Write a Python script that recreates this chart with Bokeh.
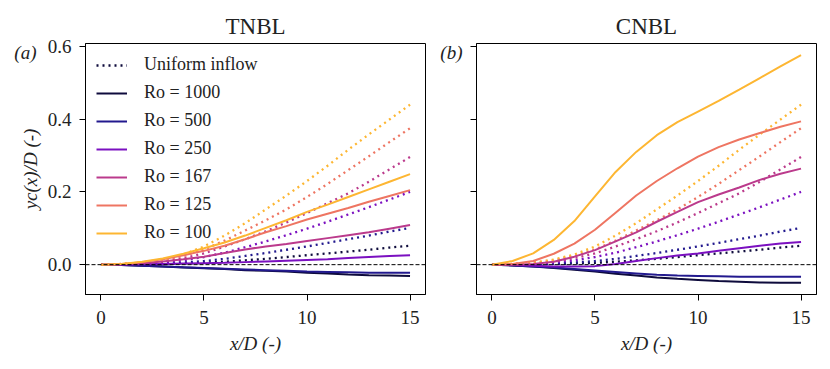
from bokeh.plotting import figure
from bokeh.layouts import row
from bokeh.models import (Legend, LegendItem, Span, FixedTicker, LinearAxis,
                          NumeralTickFormatter, CustomJSTickFormatter, Range1d)
from bokeh.embed import file_html
from bokeh.resources import INLINE

# ---------------- data ----------------
x_vals = list(range(16))  # x/D = 0..15

ro_labels = ["Ro = 1000", "Ro = 500", "Ro = 250", "Ro = 167", "Ro = 125", "Ro = 100"]
ro_colors = ["#0e0b3c", "#22198e", "#7b10c0", "#bb3a8c", "#ee7562", "#fdb632"]

# Uniform inflow (dotted), one per Ro
uni_1000 = [0, 0.000, 0.001, 0.002, 0.003, 0.005, 0.008, 0.012, 0.016, 0.021, 0.026, 0.031, 0.036, 0.041, 0.047, 0.052]
uni_500  = [0, 0.000, 0.001, 0.003, 0.006, 0.010, 0.016, 0.024, 0.032, 0.041, 0.050, 0.060, 0.070, 0.080, 0.091, 0.101]
uni_250  = [0, 0.001, 0.003, 0.006, 0.012, 0.021, 0.033, 0.048, 0.064, 0.081, 0.099, 0.118, 0.138, 0.158, 0.179, 0.200]
uni_167  = [0, 0.001, 0.004, 0.009, 0.018, 0.031, 0.050, 0.070, 0.092, 0.116, 0.142, 0.169, 0.196, 0.228, 0.262, 0.296]
uni_125  = [0, 0.002, 0.005, 0.012, 0.024, 0.042, 0.066, 0.094, 0.122, 0.152, 0.186, 0.222, 0.260, 0.298, 0.337, 0.375]
uni_100  = [0, 0.002, 0.006, 0.014, 0.028, 0.050, 0.080, 0.114, 0.152, 0.190, 0.230, 0.272, 0.316, 0.358, 0.399, 0.440]

# TNBL (solid)
tnbl_1000 = [0, -0.001, -0.003, -0.005, -0.008, -0.010, -0.012, -0.015, -0.017, -0.019, -0.022, -0.024, -0.027, -0.029, -0.030, -0.031]
tnbl_500  = [0, -0.001, -0.003, -0.005, -0.007, -0.009, -0.011, -0.013, -0.015, -0.017, -0.019, -0.020, -0.021, -0.022, -0.022, -0.022]
tnbl_250  = [0, 0.000, 0.001, 0.002, 0.003, 0.004, 0.005, 0.007, 0.009, 0.011, 0.013, 0.015, 0.018, 0.021, 0.024, 0.026]
tnbl_167  = [0, 0.001, 0.004, 0.009, 0.015, 0.022, 0.032, 0.042, 0.050, 0.057, 0.065, 0.073, 0.081, 0.089, 0.099, 0.109]
tnbl_125  = [0, 0.002, 0.007, 0.015, 0.026, 0.038, 0.052, 0.070, 0.089, 0.106, 0.124, 0.140, 0.156, 0.173, 0.189, 0.205]
tnbl_100  = [0, 0.002, 0.008, 0.017, 0.030, 0.045, 0.061, 0.080, 0.101, 0.122, 0.145, 0.165, 0.186, 0.207, 0.228, 0.249]

# CNBL (solid)
cnbl_1000 = [0, -0.002, -0.005, -0.009, -0.014, -0.019, -0.025, -0.030, -0.035, -0.039, -0.042, -0.045, -0.047, -0.049, -0.050, -0.050]
cnbl_500  = [0, -0.002, -0.005, -0.008, -0.012, -0.016, -0.020, -0.024, -0.028, -0.030, -0.031, -0.032, -0.033, -0.033, -0.033, -0.033]
cnbl_250  = [0, -0.001, -0.003, -0.005, -0.005, -0.004, 0.002, 0.010, 0.018, 0.025, 0.031, 0.038, 0.045, 0.052, 0.058, 0.062]
cnbl_167  = [0, 0.000, 0.002, 0.008, 0.022, 0.040, 0.064, 0.089, 0.118, 0.145, 0.172, 0.193, 0.212, 0.233, 0.250, 0.264]
cnbl_125  = [0, 0.002, 0.010, 0.030, 0.058, 0.096, 0.143, 0.190, 0.230, 0.265, 0.297, 0.323, 0.344, 0.362, 0.379, 0.394]
cnbl_100  = [0, 0.010, 0.031, 0.068, 0.120, 0.188, 0.255, 0.310, 0.356, 0.392, 0.421, 0.450, 0.481, 0.513, 0.545, 0.576]

uniform = [uni_1000, uni_500, uni_250, uni_167, uni_125, uni_100]
tnbl = [tnbl_1000, tnbl_500, tnbl_250, tnbl_167, tnbl_125, tnbl_100]
cnbl = [cnbl_1000, cnbl_500, cnbl_250, cnbl_167, cnbl_125, cnbl_100]

x_ticks = [0, 5, 10, 15]
y_ticks = [0.0, 0.2, 0.4, 0.6]
titles = ["TNBL", "CNBL"]
panel_tags = ["(a)", "(b)"]
tag_y = 0.583

FONT = "Liberation Serif"
TXT = "#222222"
FRAME_W, FRAME_H = 340, 251


def make_panel(idx, solid_sets, first):
    left = 85 if first else 40
    right = 11 if first else 10
    top, bottom = 43, 70
    p = figure(width=left + FRAME_W + right, height=top + FRAME_H + bottom,
               output_backend="svg", toolbar_location=None,
               x_range=Range1d(-0.75, 15.75), y_range=Range1d(-0.082, 0.608),
               min_border_left=left, min_border_right=right,
               min_border_top=top, min_border_bottom=bottom)
    p.title.text = titles[idx]
    p.title.align = "center"
    p.title.text_font = FONT
    p.title.text_font_size = "23px"
    p.title.text_font_style = "normal"
    p.title.text_color = TXT
    p.title.standoff = 9
    p.grid.visible = False
    p.outline_line_color = "black"
    p.outline_line_width = 1
    p.background_fill_color = "white"
    p.border_fill_color = "white"

    for ax in (p.xaxis[0], p.yaxis[0]):
        ax.axis_line_color = "black"
        ax.major_tick_out = 6
        ax.major_tick_in = 0
        ax.minor_tick_line_color = None
        ax.major_label_text_font = FONT
        ax.major_label_text_font_size = "19px"
        ax.major_label_text_color = TXT
        ax.axis_label_text_font = FONT
        ax.axis_label_text_font_size = "19px"
        ax.axis_label_text_font_style = "italic"
        ax.axis_label_text_color = TXT

    p.xaxis.ticker = FixedTicker(ticks=x_ticks)
    p.yaxis.ticker = FixedTicker(ticks=y_ticks)
    p.xaxis.axis_label = "x/D (-)"
    p.xaxis.major_label_standoff = 10
    p.xaxis.axis_label_standoff = 6

    tag_axis = LinearAxis(ticker=FixedTicker(ticks=[tag_y]),
                          formatter=CustomJSTickFormatter(code="return '%s'" % panel_tags[idx]),
                          axis_line_color=None, major_tick_line_color=None,
                          minor_tick_line_color=None, major_tick_out=0, major_tick_in=0,
                          major_label_text_font=FONT, major_label_text_font_size="19px",
                          major_label_text_font_style="italic",
                          major_label_text_color=TXT)
    if first:
        p.yaxis.formatter = NumeralTickFormatter(format="0.0")
        p.yaxis.axis_label = "yc(x)/D (-)"
        p.yaxis.major_label_standoff = 8
        p.yaxis.axis_label_standoff = 4
        tag_axis.major_label_standoff = -20
    else:
        p.yaxis.formatter = CustomJSTickFormatter(code="return ''")
        p.yaxis.major_label_standoff = 0
        tag_axis.major_label_standoff = 8
    p.add_layout(tag_axis, "left")

    p.add_layout(Span(location=0, dimension="width", line_color="black",
                      line_width=1, line_dash="4 2"))

    dotted = []
    for ys, c in zip(uniform, ro_colors):
        r = p.line(x_vals, ys, line_color=c, line_width=2.3, line_dash="2 4")
        dotted.append(r)
    solids = []
    for ys, c in zip(solid_sets, ro_colors):
        r = p.line(x_vals, ys, line_color=c, line_width=2)
        solids.append(r)

    if first:
        items = [LegendItem(label="Uniform inflow", renderers=[dotted[0]])]
        for lab, r in zip(ro_labels, solids):
            items.append(LegendItem(label=lab, renderers=[r]))
        leg = Legend(items=items, location="top_left", margin=1, padding=10,
                     spacing=7, glyph_width=31, glyph_height=20, label_height=20,
                     label_standoff=17, border_line_alpha=0,
                     background_fill_alpha=0, label_text_font=FONT,
                     label_text_font_size="18px", label_text_color=TXT)
        p.add_layout(leg)
    return p


p1 = make_panel(0, tnbl, True)
p2 = make_panel(1, cnbl, False)
p = row(p1, p2)

open("out.html", "w").write(file_html(p, INLINE))
